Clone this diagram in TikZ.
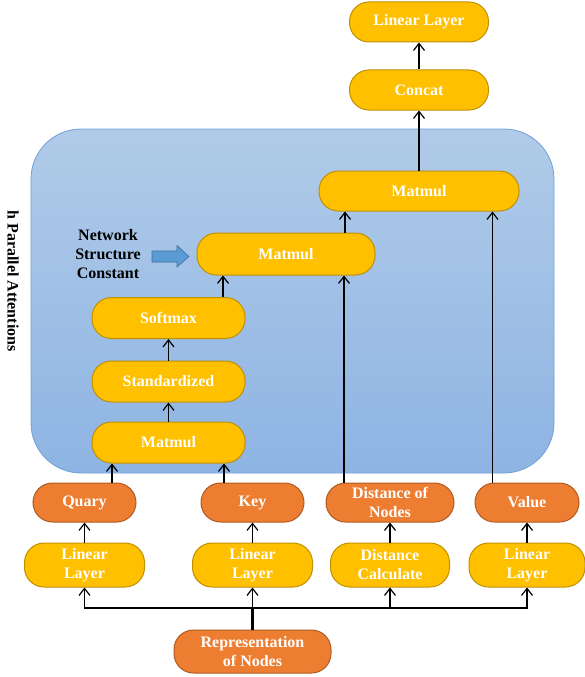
\documentclass[tikz,border=0pt]{standalone}
\usepackage{fontspec}
\setmainfont{Liberation Serif}
\usetikzlibrary{arrows.meta}
\definecolor{ylw}{HTML}{FFC000}
\definecolor{ylwd}{HTML}{BF9000}
\definecolor{org}{HTML}{ED7D31}
\definecolor{orgd}{HTML}{AE5A21}
\definecolor{contTop}{HTML}{B0CBE8}
\definecolor{contBot}{HTML}{8EB4E3}
\definecolor{contEdge}{HTML}{6FA0D8}
\definecolor{barrow}{HTML}{5B9BD5}
\definecolor{barrowd}{HTML}{41719C}
\tikzset{
  pill/.style={rounded corners=19.5pt, line width=1pt, inner sep=0pt, align=center,
    text=white, font=\fontsize{16}{19}\selectfont\bfseries},
  ybox/.style={pill, fill=ylw, draw=ylwd},
  obox/.style={pill, fill=org, draw=orgd},
  arr/.style={draw=black, line width=1.2pt, -{Straight Barb[length=7pt,width=11pt]}},
}
\begin{document}
\begin{tikzpicture}[x=1pt,y=-1pt]
\useasboundingbox (0,0) rectangle (585,677);
% container
\node[draw=contEdge, line width=0.8pt, rounded corners=50pt, top color=contTop, bottom color=contBot,
  minimum width=523pt, minimum height=344pt, inner sep=0pt] (panel) at (292.5,301) {};
\node[rotate=-90, font=\fontsize{16}{19}\selectfont\bfseries] (hpa) at (13,281) {h Parallel Attentions};
% upper nodes
\node[ybox, minimum width=139pt, minimum height=40pt] (lintop) at (419,22) {Linear Layer};
\node[ybox, minimum width=139pt, minimum height=40pt] (concat) at (419,90) {Concat};
\node[ybox, minimum width=200pt, minimum height=40pt] (mm3) at (419,191) {Matmul};
\node[ybox, minimum width=178pt, minimum height=42pt] (mm2) at (286,254) {Matmul};
\node[ybox, minimum width=153pt, minimum height=41pt] (soft) at (168.5,318) {Softmax};
\node[ybox, minimum width=153pt, minimum height=41pt] (std) at (168.5,381.5) {Standardized};
\node[ybox, minimum width=153pt, minimum height=41pt] (mm1) at (168.5,442.5) {Matmul};
% network structure constant
\node[align=center, font=\fontsize{16}{19}\selectfont\bfseries] (nsc) at (108,254) {Network\\Structure\\Constant};
\draw[draw=barrowd, fill=barrow, line width=0.6pt]
  (152,251) -- (177,251) -- (177,245.5) -- (189,256.5) -- (177,267) -- (177,262) -- (152,262) -- cycle;
% lower row
\node[obox, minimum width=103pt, minimum height=39pt] (q) at (84.5,502.5) {Quary};
\node[obox, minimum width=103pt, minimum height=39pt] (k) at (252.5,502.5) {Key};
\node[obox, minimum width=128pt, minimum height=39pt] (dn) at (390,502.5) {Distance of\\Nodes};
\node[obox, minimum width=104pt, minimum height=39pt] (val) at (527,502.5) {Value};
\node[ybox, minimum width=120pt, minimum height=44pt] (lin1) at (84.5,565) {Linear\\Layer};
\node[ybox, minimum width=120pt, minimum height=44pt] (lin2) at (252.5,565) {Linear\\Layer};
\node[ybox, minimum width=119pt, minimum height=44pt] (dc) at (390,565) {Distance\\Calculate};
\node[ybox, minimum width=116pt, minimum height=44pt] (lin4) at (527,565) {Linear\\Layer};
\node[obox, minimum width=157pt, minimum height=43pt] (rep) at (252.5,651.5) {Representation\\of Nodes};
% connectors top
\draw[arr] (concat.north) -- (lintop.south);
\draw[arr] (mm3.north) -- (concat.south);
\coordinate (mm2a) at ([xshift=59pt]mm2.north);
\draw[arr] (mm2a) -- (mm2a |- mm3.south);
\coordinate (softa) at ([xshift=54.5pt]soft.north);
\draw[arr] (softa) -- (softa |- mm2.south);
\draw[arr] (std.north) -- (soft.south);
\draw[arr] (mm1.north) -- (std.south);
\coordinate (qa) at ([xshift=27.5pt]q.north);
\draw[arr] (qa) -- (qa |- mm1.south);
\coordinate (ka) at ([xshift=-28.5pt]k.north);
\draw[arr] (ka) -- (ka |- mm1.south);
\coordinate (dna) at ([xshift=-46pt]dn.north);
\draw[arr] (dna) -- (dna |- mm2.south);
\coordinate (vala) at ([xshift=-34.5pt]val.north);
\draw[arr] (vala) -- (vala |- mm3.south);
% lower connectors
\draw[arr] (lin1.north) -- (q.south);
\draw[arr] (lin2.north) -- (k.south);
\draw[arr] (dc.north) -- (dn.south);
\draw[arr] (lin4.north) -- (val.south);
\coordinate (split) at (252.5,608);
\draw[draw=black, line width=2.2pt] (rep.north) -- ([yshift=-1pt]split);
\draw[arr] (split) -- (lin2.south);
\draw[arr] (split) -| (lin1.south);
\draw[arr] (split) -| (dc.south);
\draw[arr] (split) -| (lin4.south);
\end{tikzpicture}
\end{document}
